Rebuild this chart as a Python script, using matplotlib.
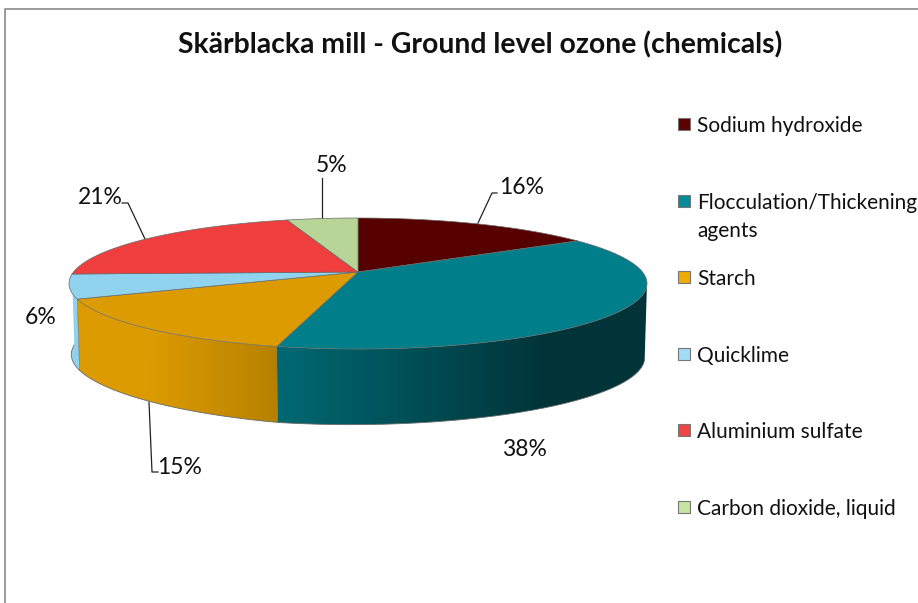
import numpy as np
import matplotlib
matplotlib.use("Agg")
import matplotlib.pyplot as plt
from matplotlib.patches import Rectangle, Polygon

categories = ["Sodium hydroxide", "Flocculation/Thickening\nagents", "Starch",
              "Quicklime", "Aluminium sulfate", "Carbon dioxide, liquid"]
values = [16.0, 37.8, 14.7, 6.0, 20.8, 4.7]
pct_labels = ["16%", "38%", "15%", "6%", "21%", "5%"]
colors = ["#570000", "#007e8a", "#dc9b00", "#8fd3ef", "#ee3e3e", "#b7d597"]
legend_colors = ["#5c0000", "#008b99", "#eeab00", "#a0dcf5", "#f04545", "#c6e5a2"]

plt.rcParams["font.family"] = ["Lato", "DejaVu Sans"]
W, H = 918, 603
fig = plt.figure(figsize=(W / 100, H / 100), dpi=100)
ax = fig.add_axes([0, 0, 1, 1])

# pie projection (perspective disc)
CX, CY, A, B, K, BOTTOM_SCALE = 358.0, 272.0, 284.5, 63.5, 0.176, 0.992
EDGE = "#6a6a6a"
WALL_START = np.arccos(-K)
WALL_END = 1.4895 * np.pi


def project(theta):
    u, v = np.sin(theta), -np.cos(theta)
    w = 1 - K * v
    return CX + A * u / w, CY + B * v / w


def project_bottom(theta):
    x, y = project(theta)
    depth = np.interp(x, [70, 278, 647], [71, 76, 74])
    return CX + (x - CX) * BOTTOM_SCALE, y + depth


def shade(x):
    return np.interp(x, [150, 278, 540, 650], [1.0, 0.83, 0.42, 0.42])


fracs = np.array(values, float) / sum(values)
edges = np.concatenate([[0], np.cumsum(fracs)]) * 2 * np.pi

# side walls, only for the visible front part
for i in range(len(values)):
    lo, hi = max(edges[i], WALL_START), min(edges[i + 1], WALL_END)
    if hi <= lo:
        continue
    th = np.linspace(lo, hi, 200)
    xt, yt = project(th)
    xb, yb = project_bottom(th)
    poly = Polygon(np.column_stack([np.r_[xt, xb[::-1]], np.r_[yt, yb[::-1]]]), closed=True,
                   facecolor="none", edgecolor="none", zorder=2)
    ax.add_patch(poly)
    x0, x1 = min(xt.min(), xb.min()), max(xt.max(), xb.max())
    y0, y1 = min(yt.min(), yb.min()), max(yt.max(), yb.max())
    gx = np.linspace(x0, x1, 400)
    base = np.array(matplotlib.colors.to_rgb(colors[i]))
    img = (base[None, :] * shade(gx)[:, None])[None, :, :]
    im = ax.imshow(img, extent=[x0, x1, y1, y0], aspect="auto", interpolation="bilinear", zorder=2)
    im.set_clip_path(poly)
    ax.plot(xb, yb, color=EDGE, lw=0.6, zorder=3)
    if edges[i] >= WALL_START:
        ax.plot([xt[0], xb[0]], [yt[0], yb[0]], color=EDGE, lw=0.4, zorder=3)

# top face
for i in range(len(values)):
    th = np.linspace(edges[i], edges[i + 1], 200)
    x, y = project(th)
    pts = np.column_stack([np.r_[CX, x], np.r_[CY, y]])
    ax.add_patch(Polygon(pts, closed=True, facecolor=colors[i], edgecolor=EDGE, lw=0.5, zorder=4))

# data labels and leader lines
label_pos = [(522, 186), (524, 447), (180, 466), (41, 315), (100, 195), (332, 164)]
leaders = [[(478, 223), (492, 193), (497, 193)],
           None,
           [(149, 402), (152, 472), (158, 472)],
           None,
           [(145, 239), (128, 203), (122, 203)],
           [(321.5, 218), (321.5, 178)]]
for txt, (px, py), ld in zip(pct_labels, label_pos, leaders):
    ax.text(px, py + 2, txt, ha="center", va="center", fontsize=16.5, color="#111111", zorder=6)
    if ld:
        ax.plot(*zip(*ld), color="#222222", lw=0.9, zorder=1)

# legend
legend_y = [124, 201, 277, 354, 430, 507]
for name, col, y in zip(categories, legend_colors, legend_y):
    ax.add_patch(Rectangle((678, y - 6), 12, 12, facecolor=col, edgecolor="#777777", lw=0.8, zorder=5))
    if "\n" in name:
        first, second = name.split("\n")
        ax.text(697, y + 2, first, ha="left", va="center", fontsize=15, color="#111111")
        ax.text(697, y + 30, second, ha="left", va="center", fontsize=15, color="#111111")
    else:
        ax.text(697, y + 2, name, ha="left", va="center", fontsize=15, color="#111111")

# title and frame
ax.text(480, 45, "Skärblacka mill - Ground level ozone (chemicals)", ha="center", va="center",
        fontsize=20.4, fontweight="bold", color="#111111")
ax.plot([4.5, 4.5, W], [H, 8.5, 8.5], color="#8a8a8a", lw=1.2, zorder=1)

ax.set_xlim(0, W)
ax.set_ylim(H, 0)
ax.axis("off")
fig.savefig("out.png", dpi=100, facecolor="white")
